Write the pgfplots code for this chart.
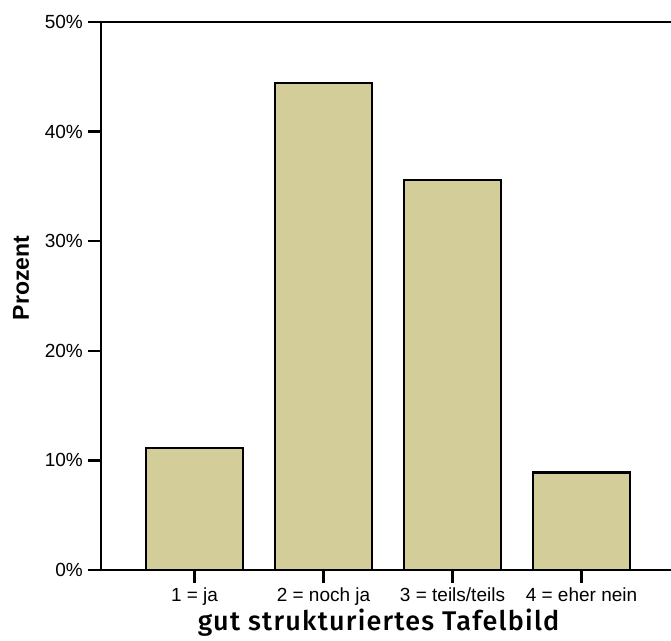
\documentclass[border=0pt]{standalone}
\usepackage{pgfplots}
\pgfplotsset{compat=1.18}
\usepackage{fontspec}
\setmainfont{Liberation Sans}
\newfontfamily\titlefont[LetterSpace=4.5]{Fira Sans Medium}
\definecolor{barcol}{RGB}{211,206,153}
\begin{document}
\begin{tikzpicture}
\useasboundingbox (0,0) rectangle (671bp,641bp);
\begin{axis}[
  at={(101bp,71bp)}, anchor=south west,
  scale only axis, width=570bp, height=548bp,
  xmin=0.275, xmax=4.694, ymin=0, ymax=50,
  axis x line*=bottom, axis y line*=left,
  axis line style={line width=2.5bp, -},
  xtick={1,2,3,4},
  xticklabels={1 = ja, 2 = noch ja, 3 = teils/teils, 4 = eher nein},
  ytick={0,10,20,30,40,50},
  yticklabels={0\%,10\%,20\%,30\%,40\%,50\%},
  tick align=outside, major tick length=13bp,
  tick style={line width=2.5bp, black},
  ticklabel style={font=\fontsize{19bp}{22bp}\selectfont},
  yticklabel style={inner sep=5bp},
  xticklabel style={inner sep=4.5bp},
  /pgf/number format/assume math mode=true,
  clip=false,
]
\addplot[ybar, bar width=97bp, fill=barcol, draw=black, line width=2.2bp]
  coordinates {(1,11.1) (2,44.4) (3,35.6) (4,8.9)};
\draw[line width=2.5bp] (rel axis cs:0,1) -- (rel axis cs:1,1);
\end{axis}
\node[rotate=90, font=\fontsize{23bp}{26bp}\selectfont\bfseries] at (21bp,363bp) {Prozent};
\node[anchor=base, font=\fontsize{27bp}{30bp}\titlefont] at (378.5bp,11bp) {gut strukturiertes Tafelbild};
\end{tikzpicture}
\end{document}
